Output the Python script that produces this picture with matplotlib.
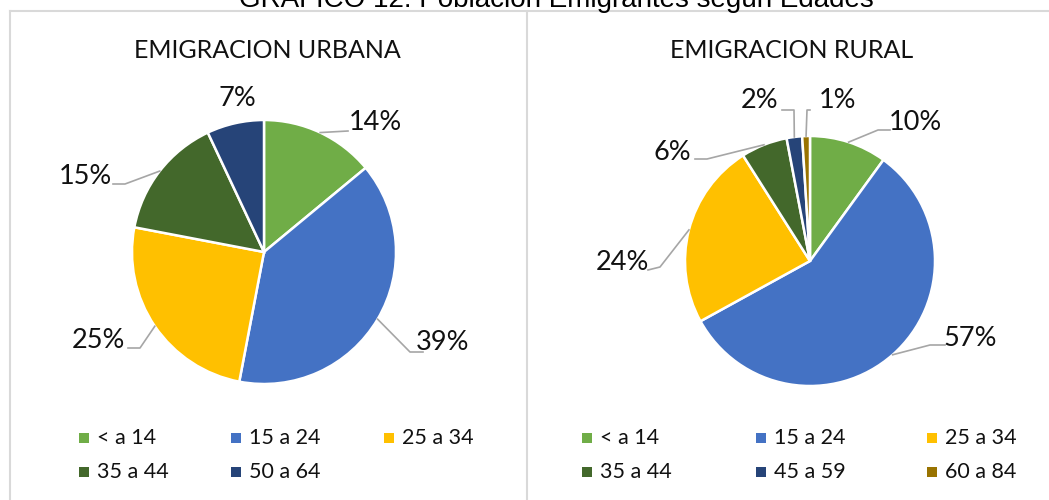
import numpy as np
import matplotlib.pyplot as plt
from matplotlib.lines import Line2D

# data
urban_labels = ['< a 14', '15 a 24', '25 a 34', '35 a 44', '50 a 64']
urban_values = [14, 39, 25, 15, 7]
rural_labels = ['< a 14', '15 a 24', '25 a 34', '35 a 44', '45 a 59', '60 a 84']
rural_values = [10, 57, 24, 6, 2, 1]

colors = ['#70AD47', '#4472C4', '#FFC000', '#43682B', '#264478', '#997300']

W, H = 1049, 500


def py(y):
    # pixel row (from top) -> axes y
    return H - y


def draw_pie(ax, values, cx, cy, r, label_pos, leaders):
    vals = np.array(values, dtype=float)
    ax.pie(vals, colors=colors[:len(vals)], startangle=90, counterclock=False,
           center=(cx, py(cy)), radius=r,
           wedgeprops=dict(edgecolor='white', linewidth=1.8))
    frac = np.cumsum(vals) / vals.sum()
    mids = (frac - vals / vals.sum() / 2) * 2 * np.pi
    for i, (lx, ly) in enumerate(label_pos):
        ax.text(lx, py(ly), '%d%%' % values[i], ha='center', va='center',
                fontsize=19.5, family='Lato', color='#111111')
        if leaders[i] is None:
            continue
        ex = cx + r * np.sin(mids[i])
        ey = py(cy) + r * np.cos(mids[i])
        pts = [(ex, ey)] + [(x, py(y)) for x, y in leaders[i]]
        xs, ys = zip(*pts)
        ax.add_line(Line2D(xs, ys, color='#A6A6A6', lw=1.2))


fig = plt.figure(figsize=(W / 100, H / 100), dpi=100)
ax = fig.add_axes([0, 0, 1, 1])

# frames
border = '#D9D9D9'
ax.add_line(Line2D([10, W], [py(11), py(11)], color=border, lw=1.5))
ax.add_line(Line2D([10, 10], [py(11), 0], color=border, lw=1.5))
ax.add_line(Line2D([527, 527], [py(11), 0], color=border, lw=1.5))

# cut-off main title
ax.text(556, py(7), 'GRAFICO 12: Población Emigrantes según Edades',
        ha='center', va='baseline', fontsize=20, family='Liberation Sans',
        color='#000000', clip_on=False)

ax.text(267, py(51), 'EMIGRACION URBANA', ha='center', va='center',
        fontsize=18, family='Lato', color='#111111')
ax.text(792, py(51), 'EMIGRACION RURAL', ha='center', va='center',
        fontsize=18, family='Lato', color='#111111')

draw_pie(ax, urban_values, 264, 252, 132,
         [(375, 123), (443, 343), (98, 341), (85, 176), (237, 98)],
         [[(348, 131)],
          [(410, 352), (423, 352)],
          [(140, 348), (128, 348)],
          [(125, 184), (113, 184)],
          None])

draw_pie(ax, rural_values, 810, 261, 125,
         [(915, 122), (970, 338), (622, 262), (672, 152), (760, 100), (838, 100)],
         [[(878, 130), (890, 130)],
          [(930, 345), (945, 345)],
          [(660, 267), (648, 270)],
          [(707, 159), (695, 159)],
          [(794, 110), (782, 110)],
          [(807, 110), (810, 110)]])

# legends
def draw_legend(labels, xs, ys):
    for i, lab in enumerate(labels):
        x = xs[i % 3]
        y = ys[i // 3]
        ax.scatter([x], [py(y)], marker='s', s=45, color=colors[i], linewidths=0)
        ax.text(x + 13, py(y), lab, ha='left', va='center', fontsize=15.5,
                family='Lato', color='#111111')


draw_legend(urban_labels, [84, 236, 389], [438, 472])
draw_legend(rural_labels, [587, 761, 932], [438, 472])

ax.set_aspect('auto')
ax.set_xlim(0, W)
ax.set_ylim(0, H)
ax.axis('off')

fig.savefig('out.png', dpi=100)
